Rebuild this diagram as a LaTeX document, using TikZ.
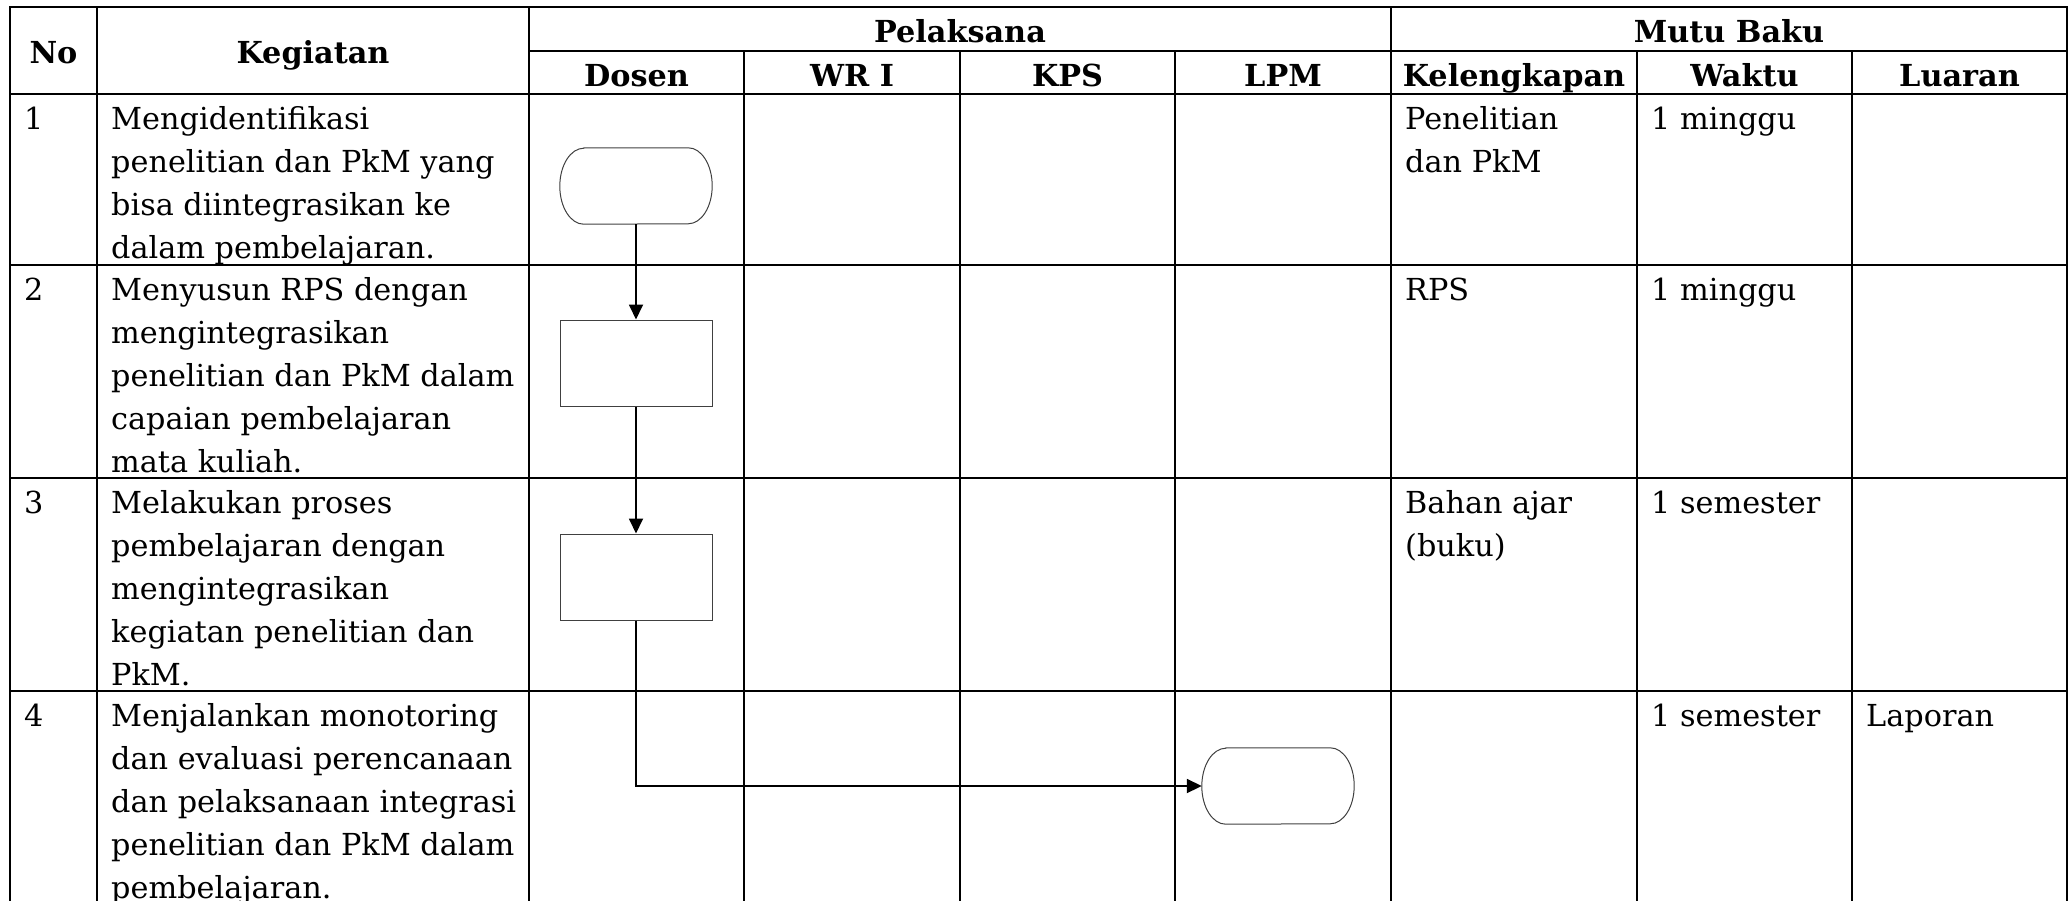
\documentclass[tikz,border=0pt]{standalone}
\usepackage{fontspec}
\setmainfont{DejaVu Serif}
\usepackage{tikz}
\usetikzlibrary{arrows.meta, positioning, calc}
\definecolor{Ink}{HTML}{000000}
\definecolor{Edge}{HTML}{404040}

\begin{document}
\begin{tikzpicture}[
  x=1pt, y=-1pt,
  font=\fontsize{30.3pt}{43pt}\selectfont,
  grid/.style={line width=2.3pt, draw=Ink, line cap=rect},
  head/.style={anchor=base, inner sep=0pt, font=\fontsize{30.3pt}{43pt}\selectfont\bfseries},
  cell/.style={anchor=north west, align=left, inner xsep=14pt, inner ysep=5pt},
  terminal/.style={minimum width=152pt, minimum height=76pt, inner sep=0pt},
  process/.style={draw=Edge, line width=1pt, minimum width=152pt, minimum height=86pt, inner sep=0pt},
  outline/.style={draw=Edge, line width=1pt},
  arrow/.style={-{Triangle[length=15pt, width=14pt]}, line width=1.8pt, draw=Ink}
]
\useasboundingbox (0,0) rectangle (2072,900);
\clip (0,0) rectangle (2072,900);

% table grid
\foreach \x in {10,97,529,1391,2067} \draw[grid] (\x,7) -- (\x,906);
\foreach \x in {744,960,1175,1637,1852} \draw[grid] (\x,51) -- (\x,906);
\foreach \y in {7,94,265,478,691} \draw[grid] (10,\y) -- (2067,\y);
\draw[grid] (529,51) -- (2067,51);

% header
\node[head] (hNo) at (53.5,63) {No};
\node[head] (hKeg) at (313,63) {Kegiatan};
\node[head] (hPel) at (960,42) {Pelaksana};
\node[head] (hMutu) at (1729,42) {Mutu Baku};
\node[head] (hDosen) at (636.5,86) {Dosen};
\node[head] (hWR) at (852,86) {WR I};
\node[head] (hKPS) at (1067.5,86) {KPS};
\node[head] (hLPM) at (1283,86) {LPM};
\node[head] (hKel) at (1514,86) {Kelengkapan};
\node[head] (hWaktu) at (1744.5,86) {Waktu};
\node[head] (hLuaran) at (1959.5,86) {Luaran};

% rows
\node[cell] (no1) at (10,94) {\strut 1};
\node[cell] (keg1) at (97,94) {\strut Mengidentifikasi\\penelitian dan PkM yang\\bisa diintegrasikan ke\\dalam pembelajaran.};
\node[cell] (kel1) at (1391,94) {\strut Penelitian\\dan PkM};
\node[cell] (waktu1) at (1637,94) {\strut 1 minggu};

\node[cell] (no2) at (10,265) {\strut 2};
\node[cell] (keg2) at (97,265) {\strut Menyusun RPS dengan\\mengintegrasikan\\penelitian dan PkM dalam\\capaian pembelajaran\\mata kuliah.};
\node[cell] (kel2) at (1391,265) {\strut RPS};
\node[cell] (waktu2) at (1637,265) {\strut 1 minggu};

\node[cell] (no3) at (10,478) {\strut 3};
\node[cell] (keg3) at (97,478) {\strut Melakukan proses\\pembelajaran dengan\\mengintegrasikan\\kegiatan penelitian dan\\PkM.};
\node[cell] (kel3) at (1391,478) {\strut Bahan ajar\\(buku)};
\node[cell] (waktu3) at (1637,478) {\strut 1 semester};

\node[cell] (no4) at (10,691) {\strut 4};
\node[cell] (keg4) at (97,691) {\strut Menjalankan monotoring\\dan evaluasi perencanaan\\dan pelaksanaan integrasi\\penelitian dan PkM dalam\\pembelajaran.};
\node[cell] (waktu4) at (1637,691) {\strut 1 semester};
\node[cell] (luaran4) at (1852,691) {\strut Laporan};

% flow
\node[terminal] (mulai) at (636,186) {};
\node[process] (susun) at (636,363) {};
\node[process] (proses) at (636,577) {};
\node[terminal] (monev) at (1278,786) {};

\foreach \t in {mulai,monev}
  \draw[outline] ([xshift=24pt]\t.north west) -- ([xshift=-24pt]\t.north east)
    arc[start angle=90, end angle=-90, x radius=24pt, y radius=38pt]
    -- ([xshift=24pt]\t.south west)
    arc[start angle=270, end angle=90, x radius=24pt, y radius=38pt] -- cycle;

\draw[arrow] (mulai) -- (susun);
\draw[arrow] (susun) -- (proses);
\draw[arrow] (proses.south) |- (monev.west);
\end{tikzpicture}
\end{document}
